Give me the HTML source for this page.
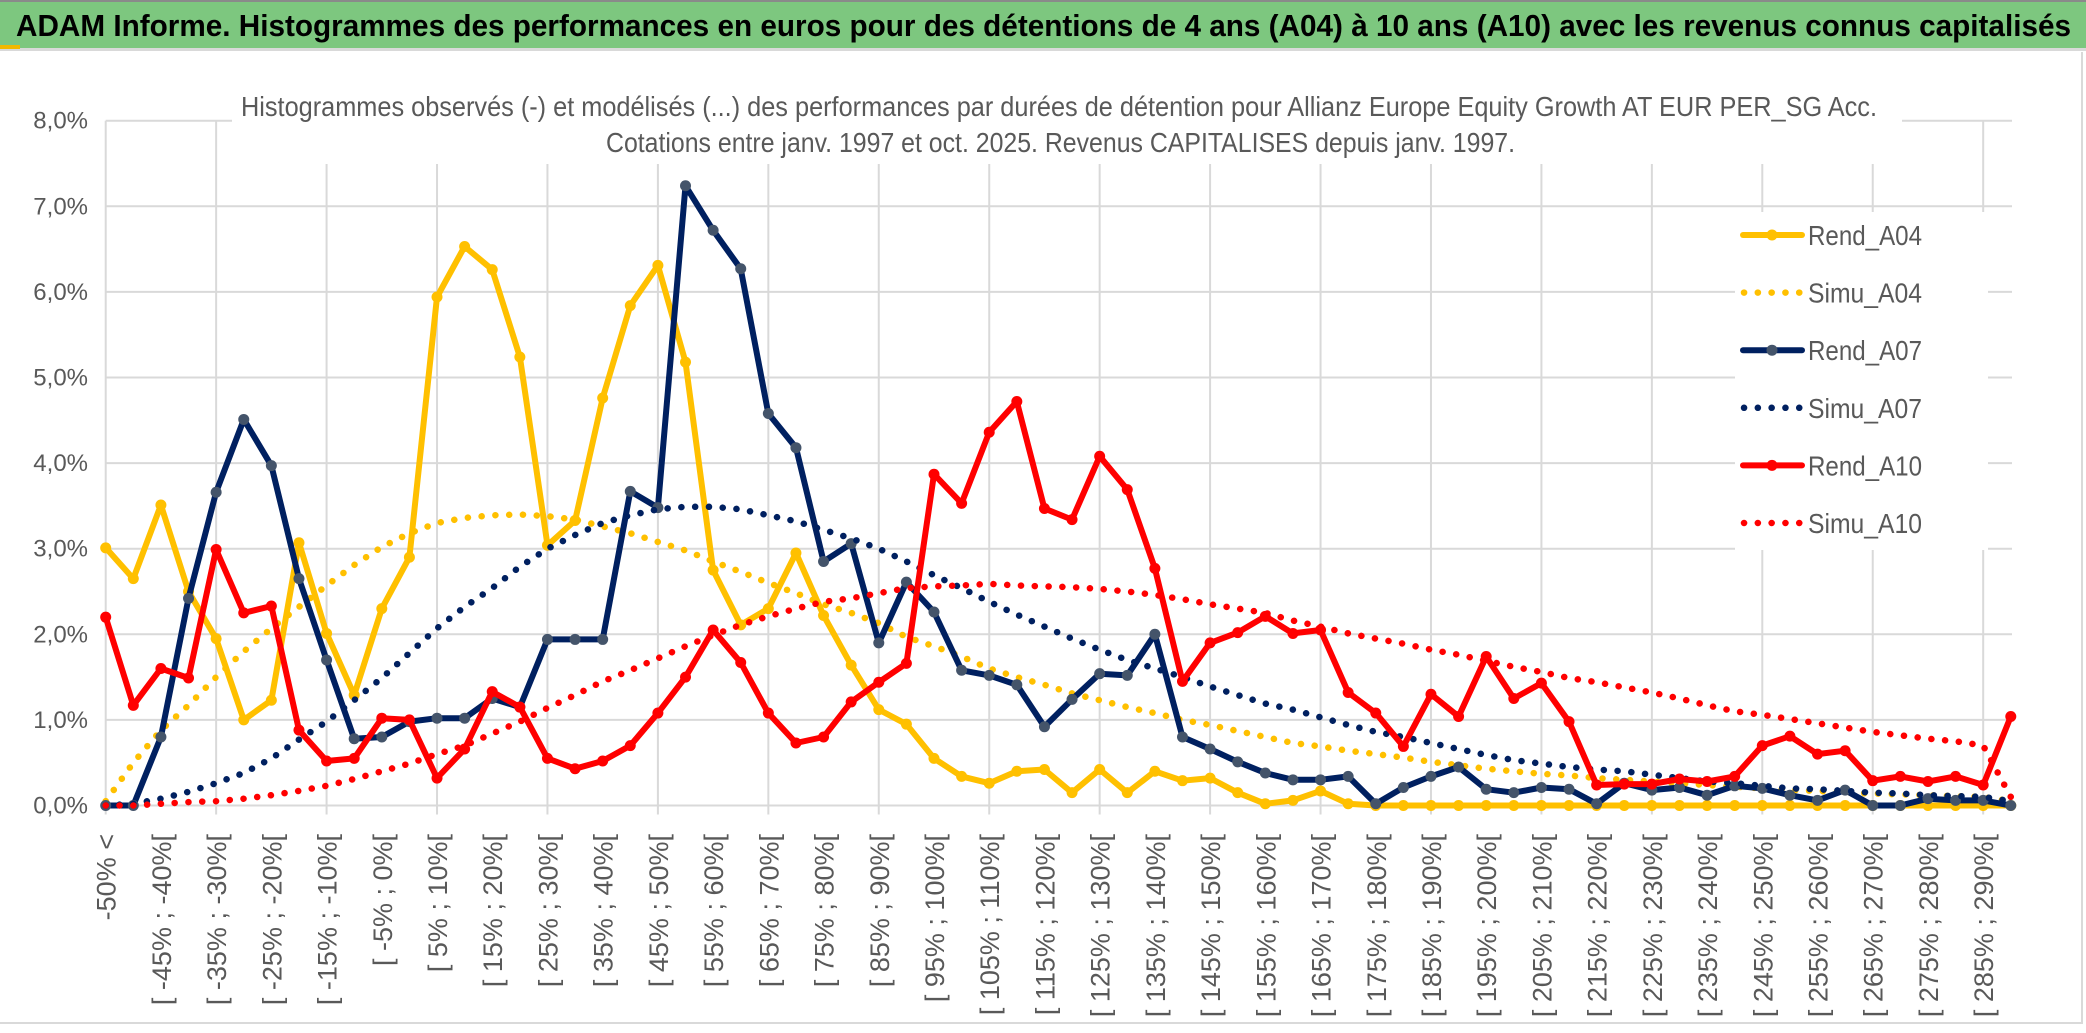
<!DOCTYPE html>
<html><head><meta charset="utf-8"><title>ADAM Informe</title>
<style>
html,body{margin:0;padding:0;background:#fff;width:2086px;height:1033px;overflow:hidden}
svg{display:block;font-family:"Liberation Sans",sans-serif}
</style></head>
<body>
<svg id="chart" width="2086" height="1033" viewBox="0 0 2086 1033" xmlns="http://www.w3.org/2000/svg">
  <rect x="0" y="0" width="2086" height="48" fill="#7dc77f"/>
  <rect x="0" y="0" width="2086" height="2" fill="#8a8a8a"/>
  <rect x="0" y="48" width="2086" height="3" fill="#d9d9d9"/>
  <rect x="0" y="45" width="20" height="4" fill="#f2b800"/>
  <text x="16" y="36" font-size="31" font-weight="bold" fill="#000" textLength="2055" lengthAdjust="spacingAndGlyphs">ADAM Informe. Histogrammes des performances en euros pour des détentions de 4 ans (A04) à 10 ans (A10) avec les revenus connus capitalisés</text>
  <line x1="2082" y1="52" x2="2082" y2="1024" stroke="#d9d9d9" stroke-width="2"/>
  <line x1="0" y1="1023" x2="2082" y2="1023" stroke="#d9d9d9" stroke-width="2"/>
  <g id="grid"></g>
  <g id="ylabels"></g>
  <g id="xlabels"></g>
  <g id="series"></g>
  <rect x="232" y="58" width="1670" height="106" fill="#fff"/>
  <text x="241" y="116" font-size="28" fill="#595959" textLength="1636" lengthAdjust="spacingAndGlyphs">Histogrammes observés (-) et modélisés (...) des performances par durées de détention pour Allianz Europe Equity Growth AT EUR PER_SG Acc.</text>
  <text x="606" y="152" font-size="28" fill="#595959" textLength="909" lengthAdjust="spacingAndGlyphs">Cotations entre janv. 1997 et oct. 2025. Revenus CAPITALISES depuis janv. 1997.</text>
  <g id="legend"></g>
</svg>
<script>
const categories = ["-50% <","[ -50% ; -45%[","[ -45% ; -40%[","[ -40% ; -35%[","[ -35% ; -30%[","[ -30% ; -25%[","[ -25% ; -20%[","[ -20% ; -15%[","[ -15% ; -10%[","[ -10% ; -5%[",
"[ -5% ; 0%[","[ 0% ; 5%[","[ 5% ; 10%[","[ 10% ; 15%[","[ 15% ; 20%[","[ 20% ; 25%[","[ 25% ; 30%[","[ 30% ; 35%[","[ 35% ; 40%[","[ 40% ; 45%[",
"[ 45% ; 50%[","[ 50% ; 55%[","[ 55% ; 60%[","[ 60% ; 65%[","[ 65% ; 70%[","[ 70% ; 75%[","[ 75% ; 80%[","[ 80% ; 85%[","[ 85% ; 90%[","[ 90% ; 95%[",
"[ 95% ; 100%[","[ 100% ; 105%[","[ 105% ; 110%[","[ 110% ; 115%[","[ 115% ; 120%[","[ 120% ; 125%[","[ 125% ; 130%[","[ 130% ; 135%[","[ 135% ; 140%[","[ 140% ; 145%[",
"[ 145% ; 150%[","[ 150% ; 155%[","[ 155% ; 160%[","[ 160% ; 165%[","[ 165% ; 170%[","[ 170% ; 175%[","[ 175% ; 180%[","[ 180% ; 185%[","[ 185% ; 190%[","[ 190% ; 195%[",
"[ 195% ; 200%[","[ 200% ; 205%[","[ 205% ; 210%[","[ 210% ; 215%[","[ 215% ; 220%[","[ 220% ; 225%[","[ 225% ; 230%[","[ 230% ; 235%[","[ 235% ; 240%[","[ 240% ; 245%[",
"[ 245% ; 250%[","[ 250% ; 255%[","[ 255% ; 260%[","[ 260% ; 265%[","[ 265% ; 270%[","[ 270% ; 275%[","[ 275% ; 280%[","[ 280% ; 285%[","[ 285% ; 290%[","[ 290% ; 295%["];
const yTicks = [0,1,2,3,4,5,6,7,8];
const yTickLabels = ["0,0%","1,0%","2,0%","3,0%","4,0%","5,0%","6,0%","7,0%","8,0%"];
const rendA04 = [3.01,2.65,3.51,2.50,1.95,1.00,1.23,3.07,2.01,1.29,2.30,2.90,5.94,6.53,6.26,5.24,3.04,3.33,4.76,5.84,6.31,5.18,2.75,2.11,2.30,2.95,2.22,1.64,1.12,0.95,0.55,0.34,0.26,0.40,0.42,0.15,0.42,0.15,0.40,0.29,0.32,0.15,0.02,0.06,0.17,0.02,0,0,0,0,0,0,0,0,0,0,0,0,0,0,0,0,0,0,0,0,0,0,0,0];
const simuA04 = [0.05,0.50,0.88,1.17,1.50,1.80,2.07,2.32,2.57,2.81,3.02,3.18,3.30,3.36,3.39,3.40,3.38,3.34,3.26,3.18,3.08,2.98,2.85,2.73,2.60,2.48,2.35,2.25,2.13,1.97,1.86,1.74,1.60,1.50,1.41,1.31,1.23,1.15,1.08,1.00,0.94,0.87,0.80,0.73,0.69,0.64,0.60,0.56,0.51,0.47,0.43,0.40,0.37,0.35,0.32,0.30,0.28,0.26,0.24,0.22,0.20,0.18,0.17,0.15,0.14,0.13,0.12,0.11,0.10,0.05];
const rendA07 = [0,0,0.80,2.42,3.66,4.51,3.97,2.65,1.70,0.78,0.80,0.98,1.02,1.02,1.25,1.15,1.94,1.94,1.94,3.67,3.48,7.24,6.72,6.27,4.58,4.18,2.85,3.06,1.90,2.61,2.26,1.58,1.52,1.41,0.92,1.24,1.54,1.52,2.00,0.80,0.66,0.51,0.38,0.30,0.30,0.34,0.02,0.21,0.34,0.45,0.19,0.15,0.21,0.19,0.02,0.26,0.18,0.21,0.12,0.23,0.20,0.12,0.06,0.18,0,0,0.08,0.06,0.06,0];
const simuA07 = [0,0.02,0.08,0.16,0.26,0.38,0.55,0.77,0.98,1.23,1.49,1.78,2.07,2.32,2.54,2.79,3.00,3.16,3.30,3.39,3.46,3.49,3.49,3.46,3.39,3.32,3.22,3.12,3.00,2.85,2.69,2.54,2.38,2.23,2.09,1.95,1.82,1.70,1.60,1.50,1.39,1.29,1.19,1.12,1.03,0.94,0.86,0.80,0.73,0.66,0.59,0.53,0.49,0.45,0.42,0.40,0.36,0.32,0.28,0.26,0.23,0.20,0.19,0.17,0.15,0.14,0.12,0.11,0.10,0.05];
const rendA10 = [2.20,1.17,1.60,1.49,2.99,2.25,2.33,0.88,0.52,0.55,1.02,1.00,0.32,0.66,1.33,1.15,0.55,0.43,0.52,0.70,1.08,1.50,2.05,1.67,1.08,0.73,0.80,1.21,1.44,1.66,3.87,3.53,4.36,4.72,3.47,3.34,4.08,3.69,2.77,1.45,1.90,2.02,2.21,2.01,2.05,1.32,1.08,0.69,1.30,1.04,1.74,1.25,1.43,0.98,0.24,0.25,0.25,0.31,0.28,0.34,0.70,0.81,0.60,0.64,0.29,0.34,0.28,0.34,0.24,1.04];
const simuA10 = [0,0,0.02,0.04,0.05,0.08,0.12,0.17,0.23,0.31,0.40,0.49,0.60,0.70,0.84,0.98,1.14,1.29,1.45,1.58,1.72,1.86,1.99,2.11,2.21,2.30,2.38,2.42,2.48,2.54,2.56,2.57,2.59,2.57,2.56,2.55,2.53,2.50,2.46,2.41,2.35,2.30,2.25,2.16,2.09,2.01,1.95,1.89,1.82,1.76,1.69,1.62,1.56,1.49,1.44,1.38,1.32,1.25,1.17,1.10,1.06,1.01,0.96,0.91,0.86,0.82,0.78,0.75,0.70,0.10];
const seriesNames = ["Rend_A04","Simu_A04","Rend_A07","Simu_A07","Rend_A10","Simu_A10"];

const NS = "http://www.w3.org/2000/svg";
const X0 = 105.7, STEP = 27.61, Y0 = 805.5, YPER = 85.6, XEND = 2012;
function xPos(i){ return X0 + STEP * i; }
function yPos(v){ return Y0 - YPER * v; }
function mk(tag, attrs, parent){
  const e = document.createElementNS(NS, tag);
  for (const k in attrs) e.setAttribute(k, attrs[k]);
  parent.appendChild(e);
  return e;
}
const grid = document.getElementById('grid');
yTicks.forEach((t, k) => {
  const l = mk('line', {x1: X0, x2: XEND, y1: yPos(t), y2: yPos(t), stroke: '#d9d9d9', 'stroke-width': 2}, grid);
  
  
  const tx = mk('text', {x: 88, y: yPos(t) + 8, 'font-size': 24, fill: '#595959', 'text-anchor': 'end'}, document.getElementById('ylabels'));
  
  
  tx.textContent = yTickLabels[k];
});
for (let i = 0; i < categories.length; i += 4) {
  const l = mk('line', {x1: xPos(i), x2: xPos(i), y1: yPos(8), y2: Y0 + 9, stroke: '#d9d9d9', 'stroke-width': 2}, grid);
  
  
}
const xl = document.getElementById('xlabels');
for (let i = 0; i < categories.length; i += 2) {
  const x = xPos(i) + 10, y = 834;
  const t = mk('text', {x: x, y: y, 'font-size': 27, fill: '#595959', 'text-anchor': 'end', transform: 'rotate(-90 ' + x + ' ' + y + ')'}, xl);
  
  
  t.textContent = categories[i];
}
const sg = document.getElementById('series');
function pts(arr){ return arr.map((v, i) => xPos(i).toFixed(1) + ',' + yPos(v).toFixed(1)).join(' '); }
function solid(arr, color, marker, name){
  const g = mk('g', {}, sg);
  
  
  const p = mk('polyline', {points: pts(arr), fill: 'none', stroke: color, 'stroke-width': 6, 'stroke-linejoin': 'round'}, g);
  
  
  arr.forEach((v, i) => {
    const c = mk('circle', {cx: xPos(i), cy: yPos(v), r: 5.5, fill: marker}, g);
    
    
  });
}
function dotted(arr, color, name){
  const p = mk('polyline', {points: pts(arr), fill: 'none', stroke: color, 'stroke-width': 6.5, 'stroke-linecap': 'round', 'stroke-dasharray': '0.1 13.7'}, sg);
  
  
}
solid(rendA04, '#ffc000', '#ffc000', 'rend-a04');
dotted(simuA04, '#ffc000', 'simu-a04');
solid(rendA07, '#002060', '#44546a', 'rend-a07');
dotted(simuA07, '#002060', 'simu-a07');
solid(rendA10, '#ff0000', '#ff0000', 'rend-a10');
dotted(simuA10, '#ff0000', 'simu-a10');

const lg = document.getElementById('legend');
const bg = mk('rect', {x: 1735, y: 212, width: 253, height: 338, fill: '#fff'}, lg);


const legColors = ['#ffc000','#ffc000','#002060','#002060','#ff0000','#ff0000'];
const legMarkers = ['#ffc000','','#44546a','','#ff0000',''];
seriesNames.forEach((n, k) => {
  const y = 235 + k * 57.6;
  const g = mk('g', {}, lg);
  
  
  if (legMarkers[k]) {
    mk('line', {x1: 1743, x2: 1802, y1: y, y2: y, stroke: legColors[k], 'stroke-width': 6, 'stroke-linecap': 'round'}, g);
    mk('circle', {cx: 1772, cy: y, r: 5.5, fill: legMarkers[k]}, g);
  } else {
    mk('line', {x1: 1744, x2: 1802, y1: y, y2: y, stroke: legColors[k], 'stroke-width': 6.5, 'stroke-linecap': 'round', 'stroke-dasharray': '0.1 13.7'}, g);
  }
  const t = mk('text', {x: 1808, y: y + 10, 'font-size': 28, fill: '#595959', textLength: 114, lengthAdjust: 'spacingAndGlyphs'}, g);
  
  
  t.textContent = n;
});
</script>
</body></html>
